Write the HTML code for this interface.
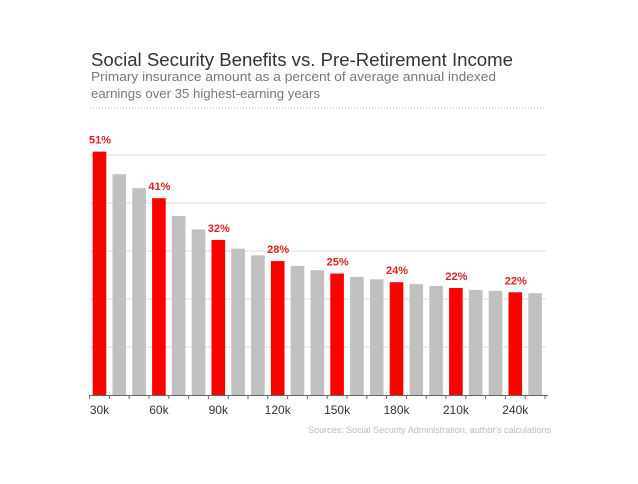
<!DOCTYPE html>
<html><head><meta charset="utf-8"><style>
body{margin:0;background:#fff;width:638px;height:479px;overflow:hidden;font-family:"Liberation Sans",sans-serif}
</style></head><body>
<svg width="638" height="479">
<text x="91" y="66" font-size="18" fill="#333" textLength="422" lengthAdjust="spacingAndGlyphs">Social Security Benefits vs. Pre-Retirement Income</text>
<text x="91" y="81" font-size="12.5" fill="#777" textLength="405" lengthAdjust="spacingAndGlyphs">Primary insurance amount as a percent of average annual indexed</text>
<text x="91" y="98" font-size="12.5" fill="#777" textLength="229" lengthAdjust="spacingAndGlyphs">earnings over 35 highest-earning years</text>
<line x1="90" y1="108" x2="546" y2="108" stroke="#bbb" stroke-dasharray="1,2"/>
<g id="grid"></g><g id="bars"></g><g id="axis"></g>
<text x="551" y="433" font-size="9" fill="#bbb" text-anchor="end">Sources: Social Security Administration, author's calculations</text>
</svg>
<script>
const categories=[30,40,50,60,70,80,90,100,110,120,130,140,150,160,170,180,190,200,210,220,230,240,250];
const values=[50.7,46.0,43.1,41.0,37.3,34.5,32.3,30.5,29.1,27.9,26.9,26.0,25.3,24.6,24.1,23.5,23.1,22.7,22.3,21.9,21.7,21.4,21.2];
const gridTicks=[10,20,30,40,50];
const labelCats=[30,60,90,120,150,180,210,240];
const valueLabels=["51%","41%","32%","28%","25%","24%","22%","22%"];
const NS="http://www.w3.org/2000/svg";
const base=395,pxPer=4.8,x0=99.5,pitch=19.8,bw=13.6;
const y=v=>base-v*pxPer;
const xc=i=>x0+i*pitch;
function mk(t,a,p){const e=document.createElementNS(NS,t);for(const k in a)e.setAttribute(k,a[k]);p.appendChild(e);return e;}
const g=document.getElementById('grid'),b=document.getElementById('bars'),ax=document.getElementById('axis');
gridTicks.forEach(t=>{const l=mk('line',{x1:90,x2:546,y1:y(t),y2:y(t),stroke:'#ddd','stroke-width':1},g);

});
categories.forEach((c,i)=>{const red=(c-30)%30===0;
const r=mk('rect',{x:xc(i)-bw/2,y:y(values[i]),width:bw,height:values[i]*pxPer,fill:red?'#ff0000':'#c0c0c0'},b);


const li=labelCats.indexOf(c);
if(li>=0){const t=mk('text',{x:xc(i)+0.5,y:y(values[i])-8,'font-size':11,'font-weight':'bold',fill:'#e02020','text-anchor':'middle'},b);t.textContent=valueLabels[li];


const tl=mk('text',{x:xc(i),y:414,'font-size':12,fill:'#333','text-anchor':'middle'},ax);tl.textContent=c+'k';

}
});
const al=mk('line',{x1:90,x2:548,y1:base+0.5,y2:base+0.5,stroke:'#666'},ax);


for(let i=0;i<=categories.length;i++){const tx=xc(i)-pitch/2;
const tk=mk('line',{x1:tx,x2:tx,y1:base,y2:base+4,stroke:'#666'},ax);

}
</script>
</body></html>
